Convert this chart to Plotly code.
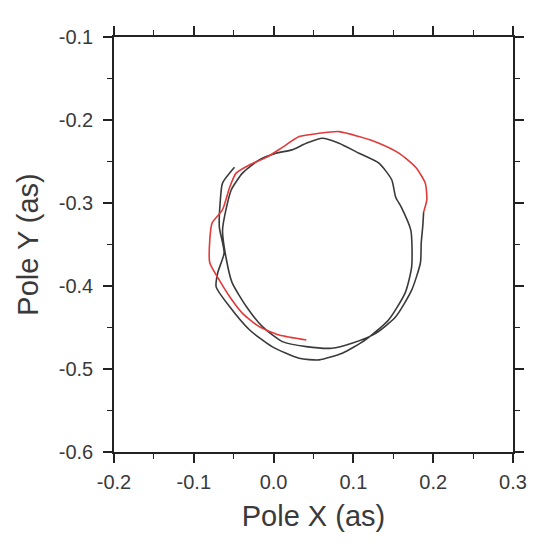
import plotly.graph_objects as go

black_x = [-0.049, -0.064, -0.067, -0.068, -0.062, -0.070, -0.072, -0.055, -0.030, -0.002,
           0.032, 0.057, 0.086, 0.115, 0.144, 0.165, 0.173, 0.172, 0.160, 0.153,
           0.148, 0.132, 0.107, 0.082, 0.061, 0.041, 0.023, 0.003, -0.018, -0.039,
           -0.053, -0.059, -0.064, -0.059, -0.052, -0.034, -0.014, 0.011, 0.041, 0.073,
           0.098, 0.128, 0.153, 0.173, 0.184, 0.185, 0.187, 0.188]
black_y = [-0.257, -0.276, -0.300, -0.329, -0.360, -0.384, -0.401, -0.425, -0.453, -0.473,
           -0.487, -0.489, -0.481, -0.465, -0.441, -0.408, -0.377, -0.333, -0.305, -0.293,
           -0.272, -0.252, -0.240, -0.228, -0.222, -0.228, -0.236, -0.240, -0.248, -0.264,
           -0.284, -0.305, -0.333, -0.369, -0.396, -0.425, -0.449, -0.467, -0.473, -0.475,
           -0.469, -0.457, -0.437, -0.405, -0.372, -0.348, -0.327, -0.311]

red_x = [0.188, 0.192, 0.190, 0.178, 0.157, 0.132, 0.107, 0.082, 0.057, 0.032,
         0.011, -0.009, -0.030, -0.047, -0.055, -0.064, -0.077, -0.080, -0.080, -0.068,
         -0.055, -0.039, -0.018, 0.007, 0.041]
red_y = [-0.311, -0.296, -0.276, -0.257, -0.240, -0.228, -0.220, -0.214, -0.216, -0.220,
         -0.233, -0.245, -0.254, -0.264, -0.281, -0.308, -0.324, -0.345, -0.372, -0.393,
         -0.413, -0.433, -0.449, -0.459, -0.465]

x_tickvals = [-0.2, -0.1, 0.0, 0.1, 0.2, 0.3]
x_ticktext = ["-0.2", "-0.1", "0.0", "0.1", "0.2", "0.3"]
y_tickvals = [-0.6, -0.5, -0.4, -0.3, -0.2, -0.1]
y_ticktext = ["-0.6", "-0.5", "-0.4", "-0.3", "-0.2", "-0.1"]

FONT = "Liberation Sans, Arial, Helvetica, sans-serif"

fig = go.Figure()
fig.add_trace(go.Scatter(x=black_x, y=black_y, mode="lines",
                         line=dict(color="#3a3a3a", width=1.6, shape="spline", smoothing=0.6),
                         showlegend=False))
fig.add_trace(go.Scatter(x=red_x, y=red_y, mode="lines",
                         line=dict(color="#e23a3a", width=1.6, shape="spline", smoothing=0.6),
                         showlegend=False))

axis_common = dict(
    showline=True, linecolor="#222", linewidth=1.5, mirror="ticks",
    ticks="outside", ticklen=9, tickwidth=1.5, tickcolor="#222",
    showgrid=False, zeroline=False,
    tickfont=dict(family=FONT, size=20, color="#3a3a3a"),
    minor=dict(ticks="outside", ticklen=5, tickwidth=1.3, tickcolor="#222", dtick=0.05, showgrid=False),
)

fig.update_xaxes(range=[-0.2, 0.3], tickmode="array", tickvals=x_tickvals, ticktext=x_ticktext,
                 ticklabelstandoff=2,
                 title=dict(text="Pole X (as)", font=dict(family=FONT, size=29, color="#3a3a3a"), standoff=14),
                 **axis_common)
fig.update_yaxes(range=[-0.6, -0.1], tickmode="array", tickvals=y_tickvals, ticktext=y_ticktext,
                 ticklabelstandoff=6,
                 title=dict(text="Pole Y (as)", font=dict(family=FONT, size=29, color="#3a3a3a"), standoff=12),
                 **axis_common)

fig.update_layout(width=539, height=550,
                  margin=dict(l=114, r=24, t=37, b=98),
                  plot_bgcolor="white", paper_bgcolor="white")

fig.write_html("out.html")
